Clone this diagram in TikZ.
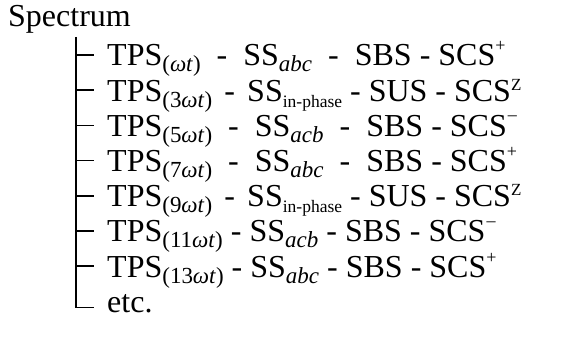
\documentclass[tikz,border=0pt]{standalone}
\usepackage{fontspec}
\setmainfont{Liberation Serif}
\newcommand\lowx[1]{\raisebox{-6pt}{\fontsize{23}{23}\selectfont #1}}
\newcommand\lowy[1]{\raisebox{-6pt}{\fontsize{17.5}{17.5}\selectfont #1}}
\newcommand\highx[2]{\raisebox{#1}{\fontsize{18}{18}\selectfont #2}}
\newcommand\tpsx[1]{TPS\lowx{(#1\textit{ωt})}}
\newcommand\wdash{\hspace{0.5em}-\hspace{0.5em}}
\newcommand\mdash{\hspace{0.38em}-\hspace{0.38em}}
\newcommand\pl{\highx{14pt}{+}}
\newcommand\mi{\hspace{1pt}\highx{15.5pt}{–}}
\newcommand\zz{\raisebox{11pt}{\fontsize{17}{17}\selectfont Z}}
\tikzset{
  rowtext/.style={anchor=base west, inner sep=0pt, font=\fontsize{32}{32}\selectfont},
  tree/.style={line width=1.6pt, line cap=butt}
}
\begin{document}
\begin{tikzpicture}[x=1pt,y=1pt]
\useasboundingbox (0,0) rectangle (563,337);
\node[rowtext] (title) at (8,310) {Spectrum};
\node[rowtext] (r1) at (107,271) {\tpsx{}\wdash SS\lowx{\textit{abc}}\wdash SBS - SCS\pl};
\node[rowtext] (r2) at (107,235.8) {\tpsx{3}\mdash SS\lowy{in-phase} - SUS - SCS\zz};
\node[rowtext] (r3) at (107,200.6) {\tpsx{5}\wdash SS\lowx{\textit{acb}}\wdash SBS - SCS\mi};
\node[rowtext] (r4) at (107,165.4) {\tpsx{7}\wdash SS\lowx{\textit{abc}}\wdash SBS - SCS\pl};
\node[rowtext] (r5) at (107,130.2) {\tpsx{9}\mdash SS\lowy{in-phase} - SUS - SCS\zz};
\node[rowtext] (r6) at (107,95) {\tpsx{11} - SS\lowx{\textit{acb}} - SBS - SCS\mi};
\node[rowtext] (r7) at (107,59.8) {\tpsx{13} - SS\lowx{\textit{abc}} - SBS - SCS\pl};
\node[rowtext] (r8) at (107,24.6) {etc.};
\coordinate (top) at (76,300);
\foreach \i/\y in {1/282,2/246.8,3/211.6,4/176.4,5/141.2,6/106,7/70.8,8/29.6}{
  \coordinate (s\i) at (76,\y);
  \coordinate (e\i) at (94,\y);
}
\draw[tree] (top) -- ([yshift=-0.8pt]s8);
\foreach \i in {1,...,8}{ \draw[tree] (s\i) -- (e\i); }
\end{tikzpicture}
\end{document}
